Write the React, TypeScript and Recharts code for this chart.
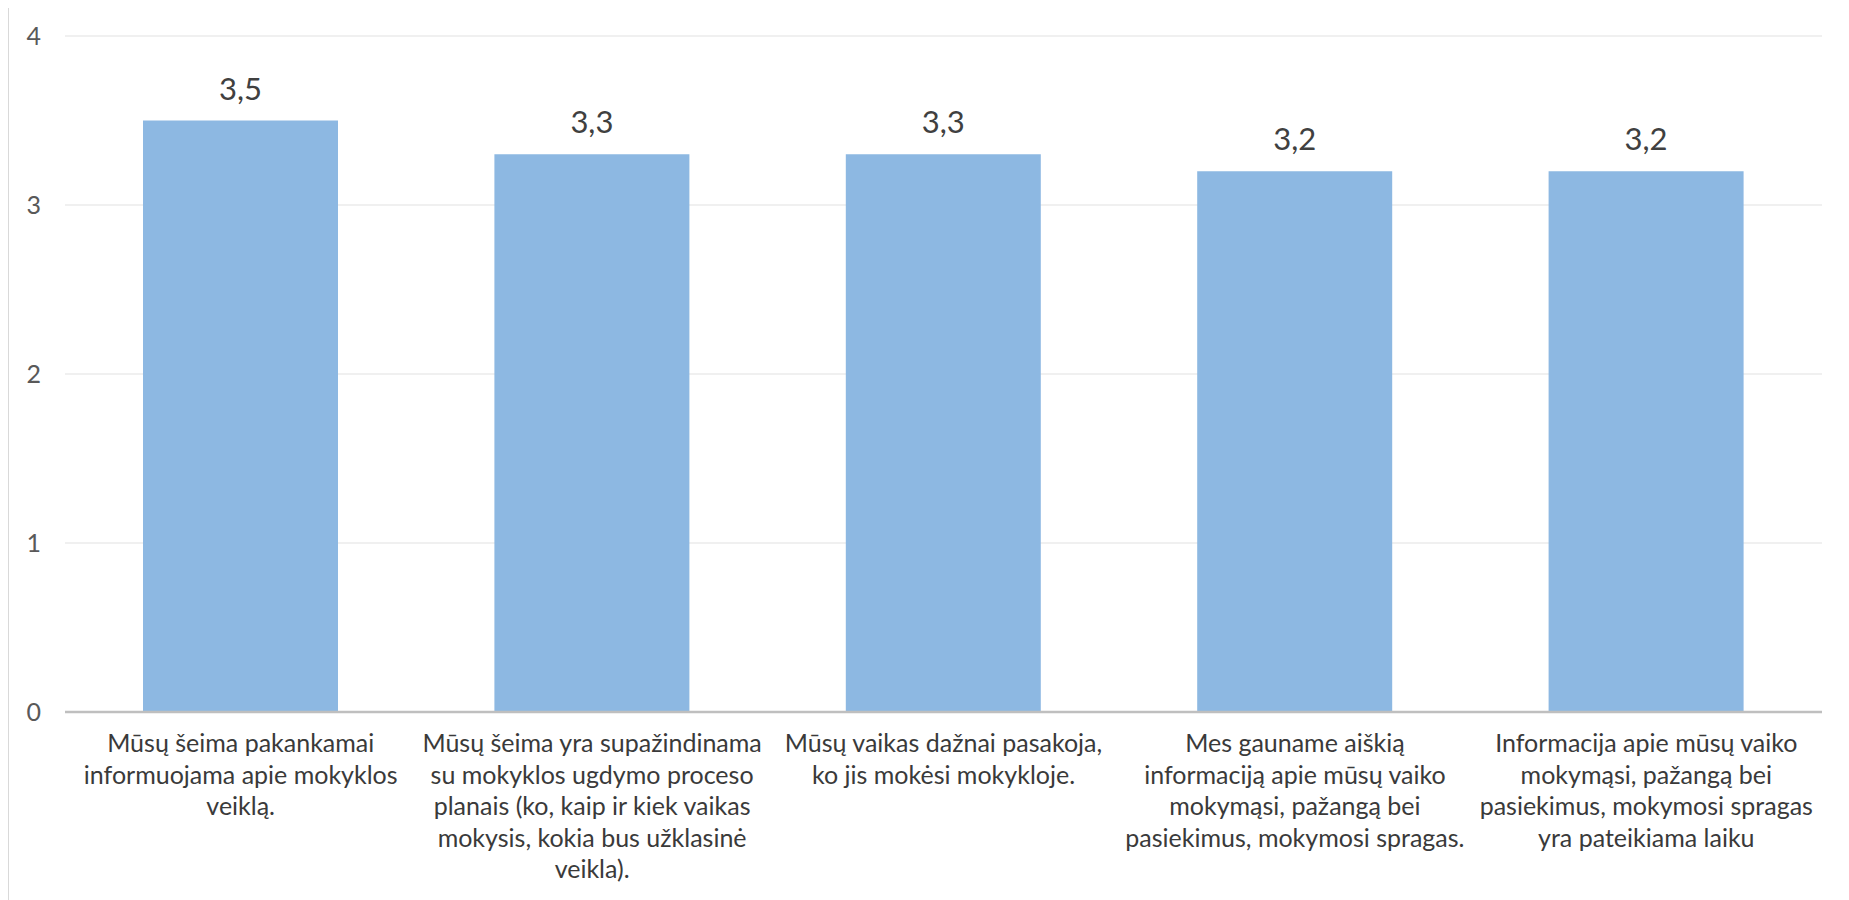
import React from "react";
import { Bar, BarChart, CartesianGrid, LabelList, XAxis, YAxis } from "recharts";

// Survey statements (line breaks as in the original chart)
const categories = [
  "Mūsų šeima pakankamai\ninformuojama apie mokyklos\nveiklą.",
  "Mūsų šeima yra supažindinama\nsu mokyklos ugdymo proceso\nplanais (ko, kaip ir kiek vaikas\nmokysis, kokia bus užklasinė\nveikla).",
  "Mūsų vaikas dažnai pasakoja,\nko jis mokėsi mokykloje.",
  "Mes gauname aiškią\ninformaciją apie mūsų vaiko\nmokymąsi, pažangą bei\npasiekimus, mokymosi spragas.",
  "Informacija apie mūsų vaiko\nmokymąsi, pažangą bei\npasiekimus, mokymosi spragas\nyra pateikiama laiku",
];
const scores = [3.5, 3.3, 3.3, 3.2, 3.2];
const yTicks = [0, 1, 2, 3, 4];

const data = categories.map((name, i) => ({ name, value: scores[i] }));

const FONT = "Lato, 'Noto Sans', sans-serif";

function CategoryTick(props: any) {
  const { x, y, payload } = props;
  const lines: string[] = String(payload.value).split("\n");
  return (
    <text
      x={x}
      y={y + 40}
      textAnchor="middle"
      fill="#3A3A3A"
      fontSize={25}
      fontFamily={FONT}
    >
      {lines.map((line, i) => (
        <tspan key={i} x={x} dy={i === 0 ? 0 : 31.6}>
          {line}
        </tspan>
      ))}
    </text>
  );
}

const fmt = (v: any) => Number(v).toFixed(1).replace(".", ",");

export default function App() {
  return (
    <div style={{ position: "relative", margin: "-8px 0 0 -8px", width: 1849, height: 900, background: "#fff" }}>
      <div
        style={{
          position: "absolute",
          left: 7,
          top: 4,
          right: 0,
          bottom: 0,
          borderLeft: "2px solid #D9D9D9",
          borderTop: "2px solid #D9D9D9",
        }}
      />
      <div style={{ position: "absolute", left: 0, top: 0 }}>
        <BarChart
          width={1849}
          height={900}
          data={data}
          margin={{ top: 36, right: 27, bottom: 0, left: 0 }}
        >
          <CartesianGrid vertical={false} stroke="#EBEBEB" strokeWidth={1.5} />
          <YAxis
            domain={[0, 4]}
            ticks={yTicks}
            width={65}
            axisLine={false}
            tickLine={false}
            tickSize={0}
            tickMargin={24}
            tick={{ fontSize: 25, fill: "#595959", fontFamily: FONT }}
          />
          <XAxis
            dataKey="name"
            height={188}
            interval={0}
            axisLine={{ stroke: "#BFBFBF", strokeWidth: 2.5 }}
            tickLine={false}
            tickSize={0}
            tickMargin={0}
            tick={<CategoryTick />}
          />
          <Bar dataKey="value" fill="#8DB8E2" barSize={195} isAnimationActive={false}>
            <LabelList
              dataKey="value"
              position="top"
              offset={21}
              formatter={fmt}
              fill="#404040"
              fontSize={31}
              fontFamily={FONT}
            />
          </Bar>
        </BarChart>
      </div>
    </div>
  );
}
